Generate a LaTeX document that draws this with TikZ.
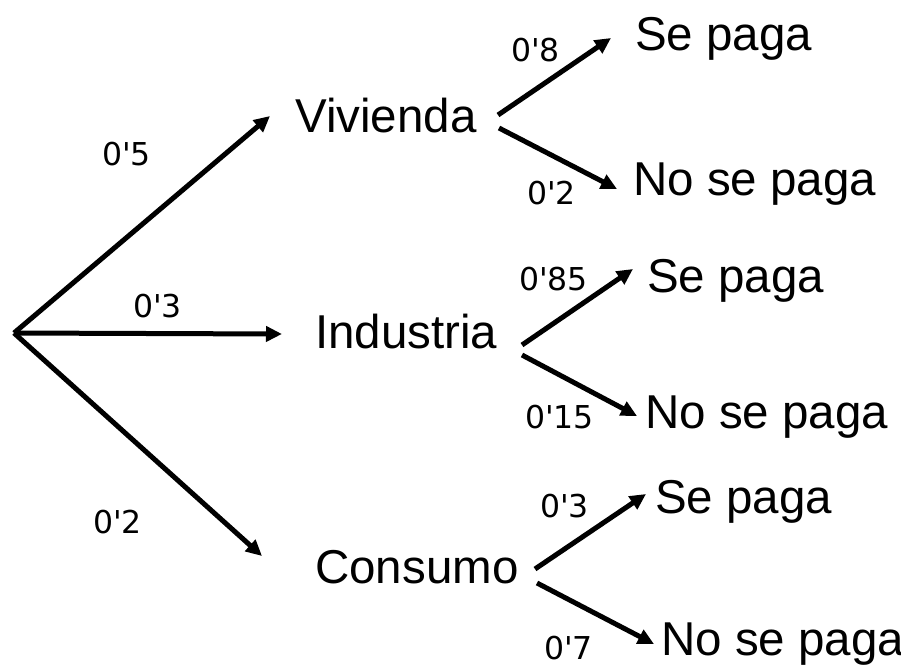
\documentclass[tikz,border=0pt]{standalone}
\usepackage{fontspec}
\setmainfont{Liberation Sans}
\newfontfamily\labfont{DejaVu Sans}
\usetikzlibrary{arrows.meta}
\newcommand{\ap}{\symbol{39}}
\tikzset{
  item/.style={inner sep=0pt, anchor=base west, font=\fontsize{47.5pt}{50pt}\selectfont},
  prob/.style={inner sep=0pt, anchor=base west, font=\labfont\fontsize{31.5pt}{33pt}\selectfont},
  branch/.style={line width=5pt, -{Triangle[length=16pt,width=15pt]}}
}
\begin{document}
\begin{tikzpicture}[x=1pt,y=-1pt]
\useasboundingbox (0,0) rectangle (901,664);
% category nodes
\node[item] (viv) at (295,132) {Vivienda};
\node[item] (ind) at (315,348) {Industria};
\node[item] (con) at (315,583) {Consumo};
% outcome nodes
\node[item] (v1) at (635,50) {Se paga};
\node[item] (v2) at (633,195) {No se paga};
\node[item] (i1) at (647,292) {Se paga};
\node[item] (i2) at (645,428) {No se paga};
\node[item] (c1) at (655,513) {Se paga};
\node[item] (c2) at (661,655) {No se paga};
% connector end points
\coordinate (root) at (14,333);
\coordinate (tviv) at (270,116);
\coordinate (tind) at (282,334);
\coordinate (tcon) at (262,556);
\coordinate (sv1) at (498,115);
\coordinate (ev1) at (611,38);
\coordinate (sv2) at (499,128);
\coordinate (ev2) at (617,189);
\coordinate (si1) at (522,345);
\coordinate (ei1) at (633,269);
\coordinate (si2) at (522,355);
\coordinate (ei2) at (637,416);
\coordinate (sc1) at (535,569);
\coordinate (ec1) at (646,494);
\coordinate (sc2) at (537,583);
\coordinate (ec2) at (654,644);
% connectors
\draw[branch] (root) -- (tviv);
\draw[branch] (root) -- (tind);
\draw[branch] (root) -- (tcon);
\draw[branch] (sv1) -- (ev1);
\draw[branch] (sv2) -- (ev2);
\draw[branch] (si1) -- (ei1);
\draw[branch] (si2) -- (ei2);
\draw[branch] (sc1) -- (ec1);
\draw[branch] (sc2) -- (ec2);
% probabilities
\node[prob] (p1) at (102,165) {0\ap5};
\node[prob] (p2) at (133,317) {0\ap3};
\node[prob] (p3) at (93,533) {0\ap2};
\node[prob] (p4) at (511,61) {0\ap8};
\node[prob] (p5) at (527,204) {0\ap2};
\node[prob] (p6) at (519,290) {0\ap85};
\node[prob] (p7) at (525,428) {0\ap15};
\node[prob] (p8) at (540,517) {0\ap3};
\node[prob] (p9) at (544,659) {0\ap7};
\end{tikzpicture}
\end{document}
